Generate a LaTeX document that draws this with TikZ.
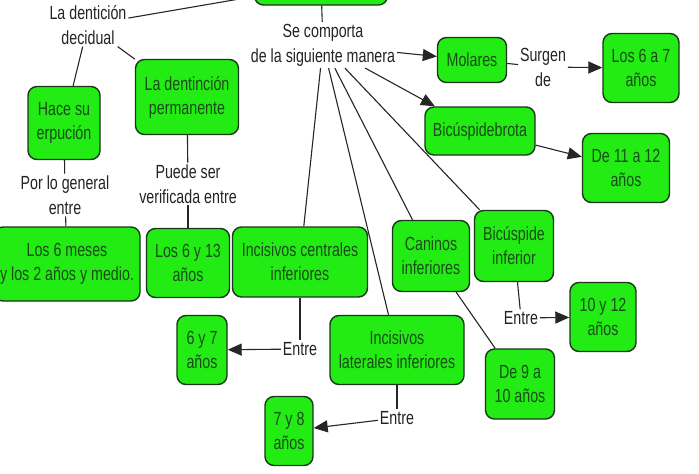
\documentclass[tikz,border=0pt]{standalone}
\usepackage{fontspec}
\setmainfont{Liberation Sans}[FakeStretch=0.75]
\usetikzlibrary{arrows.meta}
\definecolor{boxfill}{RGB}{34,236,20}
\definecolor{boxline}{RGB}{25,55,25}
\definecolor{boxtext}{RGB}{25,75,25}
\definecolor{labeltext}{RGB}{35,35,35}
\begin{document}
\begin{tikzpicture}[x=1pt,y=-1pt,
  cbox/.style={draw=boxline, line width=1.4pt, fill=boxfill, rounded corners=9pt, align=center, text=boxtext, font=\fontsize{19}{24}\selectfont, inner sep=0pt},
  lbl/.style={align=center, text=labeltext, font=\fontsize{19}{25}\selectfont, inner sep=0pt, outer sep=2pt},
  conn/.style={draw=black!85, line width=1.1pt},
  arr/.style={conn, -{Triangle[length=14pt,width=12pt]}}
]
\useasboundingbox (0,0) rectangle (699,474);
\clip (0,0) rectangle (699,474);
\fill[white] (0,0) rectangle (699,474);

% boxes
\node[cbox, minimum width=133pt, minimum height=40pt] (top) at (321,-15) {};
\node[cbox, minimum width=72pt, minimum height=73pt] (hace) at (64,123) {Hace su\\erpución};
\node[cbox, minimum width=103pt, minimum height=75pt] (perm) at (187,97) {La dentinción\\permanente};
\node[cbox, minimum width=146pt, minimum height=74pt] (meses) at (67,264) {Los 6 meses\\y los 2 años y medio.};
\node[cbox, minimum width=83pt, minimum height=69pt] (seis13) at (188,263) {Los 6 y 13\\años};
\node[cbox, minimum width=135pt, minimum height=70pt] (centrales) at (300,262) {Incisivos centrales\\inferiores};
\node[cbox, minimum width=77pt, minimum height=71pt] (caninos) at (431,256) {Caninos\\inferiores};
\node[cbox, minimum width=79pt, minimum height=71pt] (bicinf) at (514,246) {Bicúspide\\inferior};
\node[cbox, minimum width=66pt, minimum height=69pt] (diez12) at (603,317) {10 y 12\\años};
\node[cbox, minimum width=69pt, minimum height=70pt] (nueve10) at (520,384) {De 9 a\\10 años};
\node[cbox, minimum width=134pt, minimum height=69pt] (laterales) at (397,350) {Incisivos\\laterales inferiores};
\node[cbox, minimum width=50pt, minimum height=69pt] (seis7) at (202,350) {6 y 7\\años};
\node[cbox, minimum width=48pt, minimum height=69pt] (siete8) at (289,431) {7 y 8\\años};
\node[cbox, minimum width=69pt, minimum height=45pt] (molares) at (472,60) {Molares};
\node[cbox, minimum width=76pt, minimum height=69pt] (seis7b) at (641,68) {Los 6 a 7\\años};
\node[cbox, minimum width=110pt, minimum height=48pt] (bicbrota) at (480,131) {Bicúspidebrota};
\node[cbox, minimum width=87pt, minimum height=69pt] (once12) at (626,168) {De 11 a 12\\años};

% labels
\node[lbl] (ladent) at (88,25) {La dentición\\decidual};
\node[lbl] (secomp) at (323,45) {Se comporta\\de la siguiente manera};
\node[lbl] (porlo) at (65,195) {Por lo general\\entre};
\node[lbl] (puede) at (188,184) {Puede ser\\verificada entre};
\node[lbl] (surgen) at (543,67) {Surgen\\de};
\node[lbl] (entre1) at (300,349) {Entre};
\node[lbl] (entre2) at (397,418) {Entre};
\node[lbl] (entre3) at (521,318) {Entre};

% connectors
\draw[conn] (ladent) -- (top);
\draw[conn] (ladent) -- (hace);
\draw[conn] (ladent) -- (perm);
\draw[conn] (perm) -- (puede);
\draw[conn] (puede) -- (seis13);
\draw[conn] (hace) -- (porlo);
\draw[conn] (porlo) -- (meses);
\draw[conn] (top) -- (secomp);
\draw[arr] (secomp) -- (molares);
\draw[arr] (secomp) -- (bicbrota);
\draw[conn] (secomp) -- (centrales);
\draw[conn] (secomp) -- (laterales);
\draw[conn] (secomp) -- (caninos);
\draw[conn] (secomp) -- (bicinf);
\draw[conn] (molares) -- (surgen);
\draw[arr] (surgen) -- (seis7b);
\draw[arr] (bicbrota) -- (once12);
\draw[conn] (caninos) -- (nueve10);
\draw[conn] (bicinf) -- (entre3);
\draw[arr] (entre3) -- (diez12);
\draw[conn] (centrales) -- (entre1);
\draw[arr] (entre1) -- (seis7);
\draw[conn] (laterales) -- (entre2);
\draw[arr] (entre2) -- (siete8);
\end{tikzpicture}
\end{document}
